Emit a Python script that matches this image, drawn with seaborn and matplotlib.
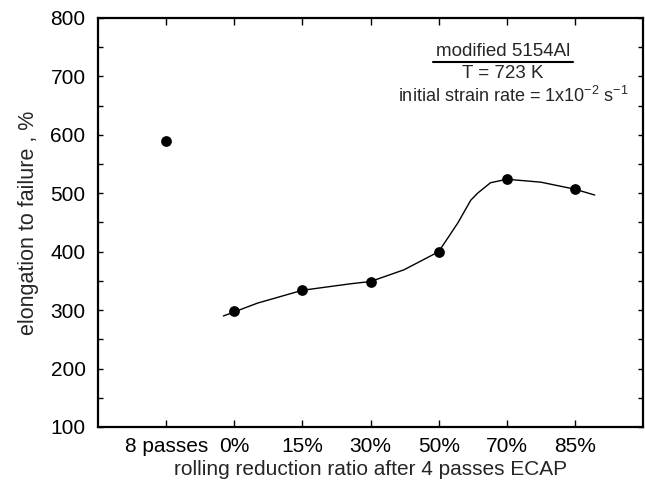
import numpy as np
import pandas as pd
import seaborn as sns
import matplotlib.pyplot as plt
from matplotlib.ticker import MultipleLocator

# measured points
categories = ['8 passes', '0%', '15%', '30%', '50%', '70%', '85%']
elongation = [589, 298, 334, 349, 400, 524, 507]

# hand-drawn trend line (category index units)
trend_x = [0.84, 1.0, 1.34, 2.0, 2.7, 3.0, 3.49, 4.0, 4.28, 4.47, 4.57, 4.76, 5.0, 5.5, 6.0, 6.29]
trend_y = [290, 297, 312, 334, 345, 349, 369, 400, 449, 488, 500, 518, 524, 519, 507, 497]

df = pd.DataFrame({'pos': np.arange(len(categories)), 'elongation': elongation})
trend = pd.DataFrame({'x': trend_x, 'y': trend_y})

sns.set_style('ticks')
plt.rcParams['font.family'] = ['Liberation Sans', 'DejaVu Sans']

fig = plt.figure(figsize=(6.45, 4.86), dpi=100)
ax = fig.add_axes([0.152, 0.1214, 0.845, 0.8416])

sns.lineplot(data=trend, x='x', y='y', sort=False, estimator=None,
             color='black', linewidth=1.0, ax=ax)
sns.scatterplot(data=df, x='pos', y='elongation', color='black', s=60,
                edgecolor='black', linewidth=0, zorder=3, ax=ax)

ax.set_xlim(-1, 7)
ax.set_ylim(100, 800)
ax.set_xticks(df['pos'])
ax.set_xticklabels(categories)
ax.yaxis.set_major_locator(MultipleLocator(100))
ax.yaxis.set_minor_locator(MultipleLocator(50))

for s in ax.spines.values():
    s.set_visible(True)
    s.set_linewidth(1.6)
    s.set_color('black')

ax.tick_params(axis='x', direction='in', length=5, width=1.0, top=True,
               labelsize=15, pad=7, colors='black')
ax.tick_params(axis='y', which='both', direction='in', length=3.6, width=1.0,
               right=True, labelsize=15, pad=9, colors='black')

ax.set_xlabel('rolling reduction ratio after 4 passes ECAP', fontsize=15, labelpad=3)
ax.set_ylabel('elongation to failure , %', fontsize=15.5, labelpad=8)

# annotation box
ax.text(0.743, 0.917, 'modified 5154Al', transform=ax.transAxes, ha='center',
        va='center', fontsize=13.5)
ax.plot([0.615, 0.872], [0.892, 0.892], transform=ax.transAxes, color='black', lw=1.5)
ax.text(0.743, 0.864, 'T = 723 K', transform=ax.transAxes, ha='center',
        va='center', fontsize=13.5)
ax.text(0.761, 0.810, r'initial strain rate = 1x10$^{\mathregular{-2}}$ s$^{\mathregular{-1}}$',
        transform=ax.transAxes, ha='center', va='center', fontsize=13)

fig.savefig('out.png', dpi=100)
